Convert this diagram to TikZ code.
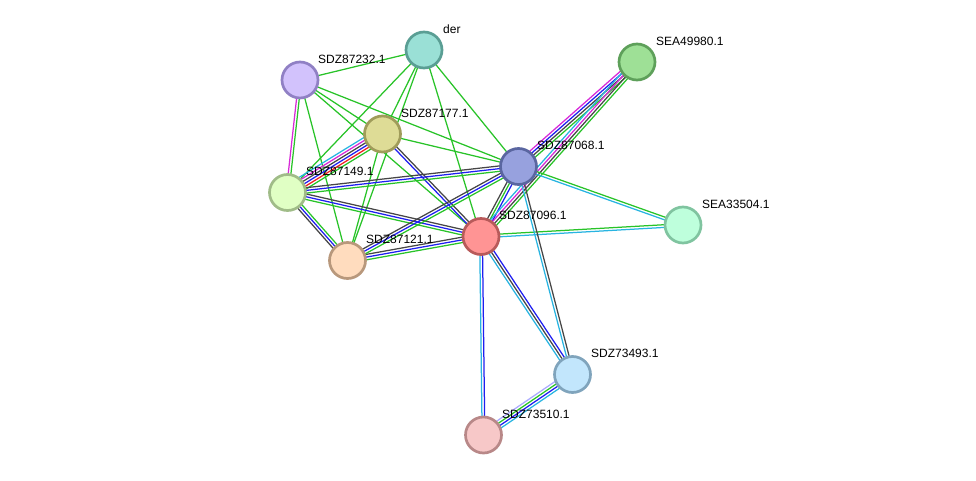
\documentclass[tikz,border=0pt]{standalone}
\usepackage{fontspec}
\setmainfont{Liberation Sans}
\usetikzlibrary{calc,backgrounds}
\definecolor{eg}{RGB}{40,195,40}
\definecolor{ek}{RGB}{70,70,70}
\definecolor{eb}{RGB}{30,30,240}
\definecolor{em}{RGB}{215,40,215}
\definecolor{ec}{RGB}{40,180,225}
\definecolor{er}{RGB}{240,30,30}
\definecolor{el}{RGB}{170,170,255}
\newcommand\sedge[4]{%
  \foreach \cc [count=\ii] in {#4}{%
    \pgfmathsetmacro\oo{(\ii-(#3+1)/2)*2.7}%
    \draw[color=\cc,eline] ($(#1.center)!\oo pt!90:(#2.center)$) -- ($(#2.center)!\oo pt!-90:(#1.center)$);
  }}
\tikzset{
  prot/.style n args={2}{circle,minimum size=36pt,inner sep=0pt,line width=2.7pt,fill=#1,draw=#2},
  lbl/.style={anchor=west,inner sep=0pt,font=\fontsize{12}{14}\selectfont},
  eline/.style={line width=1.25pt}
}
\begin{document}
\begin{tikzpicture}[x=1pt,y=-1pt]
\useasboundingbox (0,0) rectangle (976,481);
\definecolor{fder}{HTML}{9AE0D6}\definecolor{bder}{HTML}{5A9E94}
\definecolor{fa}{HTML}{D2C2FC}\definecolor{ba}{HTML}{9080C4}
\definecolor{fb}{HTML}{DEDC96}\definecolor{bb}{HTML}{A09C5A}
\definecolor{fc}{HTML}{97A1DE}\definecolor{bc}{HTML}{5A66A0}
\definecolor{fd}{HTML}{E0FFC4}\definecolor{bd}{HTML}{A0BC88}
\definecolor{fe}{HTML}{FFDCBE}\definecolor{be}{HTML}{B8987C}
\definecolor{ff}{HTML}{FF9494}\definecolor{bf}{HTML}{B85A5A}
\definecolor{fg}{HTML}{9EE096}\definecolor{bg}{HTML}{5EA05A}
\definecolor{fh}{HTML}{BEFFDC}\definecolor{bh}{HTML}{80C4A0}
\definecolor{fi}{HTML}{C2E6FC}\definecolor{bi}{HTML}{80A4BC}
\definecolor{fj}{HTML}{F7C8C8}\definecolor{bj}{HTML}{B88888}

\node[prot={fder}{bder}] (der) at (424,50) {};
\node[prot={fa}{ba}] (p232) at (300,80) {};
\node[prot={fg}{bg}] (s980) at (637,62) {};
\node[prot={fb}{bb}] (p177) at (382.5,134) {};
\node[prot={fc}{bc}] (p068) at (518.5,166.5) {};
\node[prot={fd}{bd}] (p149) at (287.5,192.5) {};
\node[prot={fh}{bh}] (s504) at (683,225) {};
\node[prot={ff}{bf}] (p096) at (481,236.5) {};
\node[prot={fe}{be}] (p121) at (347.5,260.5) {};
\node[prot={fi}{bi}] (p493) at (572.5,374.5) {};
\node[prot={fj}{bj}] (p510) at (483.5,435) {};

\begin{scope}[on background layer]
\sedge{der}{p232}{1}{eg}
\sedge{der}{p149}{1}{eg}
\sedge{der}{p177}{1}{eg}
\sedge{der}{p121}{1}{eg}
\sedge{der}{p096}{1}{eg}
\sedge{der}{p068}{1}{eg}
\sedge{p232}{p149}{2}{em,eg}
\sedge{p232}{p121}{1}{eg}
\sedge{p232}{p177}{1}{eg}
\sedge{p232}{p096}{1}{eg}
\sedge{p232}{p068}{1}{eg}
\sedge{p177}{p149}{6}{ec,em,ek,eb,er,eg}
\sedge{p177}{p096}{2}{eb,ek}
\sedge{p177}{p121}{1}{eg}
\sedge{p177}{p068}{1}{eg}
\sedge{p149}{p068}{3}{eg,eb,ek}
\sedge{p149}{p096}{3}{eg,eb,ek}
\sedge{p149}{p121}{3}{ek,eb,eg}
\sedge{p121}{p096}{3}{eg,eb,ek}
\sedge{p121}{p068}{3}{eg,eb,ek}
\sedge{p068}{p096}{3}{ek,eg,eb}
\sedge{s980}{p068}{4}{em,eb,ek,eg}
\sedge{s980}{p096}{4}{ec,em,ek,eg}
\sedge{p068}{s504}{2}{ec,eg}
\sedge{p096}{s504}{2}{ec,eg}
\sedge{p068}{p493}{2}{ec,ek}
\sedge{p096}{p493}{3}{ec,ek,eb}
\sedge{p096}{p510}{2}{ec,eb}
\sedge{p493}{p510}{4}{el,eg,eb,ec}
\end{scope}

\node[lbl] (lder) at ($(der)+(19,-21)$) {der};
\node[lbl] (l232) at ($(p232)+(18,-21)$) {SDZ87232.1};
\node[lbl] (l980) at ($(s980)+(19,-21)$) {SEA49980.1};
\node[lbl] (l177) at ($(p177)+(18.5,-21)$) {SDZ87177.1};
\node[lbl] (l068) at ($(p068)+(18.5,-21)$) {SDZ87068.1};
\node[lbl] (l149) at ($(p149)+(18.5,-21)$) {SDZ87149.1};
\node[lbl] (l504) at ($(s504)+(19,-21)$) {SEA33504.1};
\node[lbl] (l096) at ($(p096)+(18,-21)$) {SDZ87096.1};
\node[lbl] (l121) at ($(p121)+(18.5,-21)$) {SDZ87121.1};
\node[lbl] (l493) at ($(p493)+(18.5,-21)$) {SDZ73493.1};
\node[lbl] (l510) at ($(p510)+(18.5,-21)$) {SDZ73510.1};
\end{tikzpicture}
\end{document}
